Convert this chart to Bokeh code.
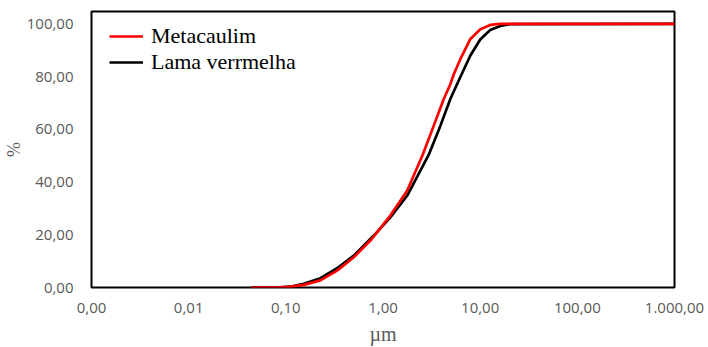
from bokeh.plotting import figure
from bokeh.models import Range1d, FixedTicker, CustomJSTickFormatter, Legend, LegendItem
from bokeh.embed import file_html
from bokeh.resources import INLINE

# ---- data ----
meta_x = [0.044, 0.08, 0.111, 0.153, 0.227, 0.337, 0.500, 0.742, 1.19, 1.77, 2.55, 3.33, 4.22, 4.93, 5.35, 6.25, 7.93, 10.05, 12.7, 16.1, 1000]
meta_y = [0.0, 0.0, 0.3, 1.0, 2.7, 6.4, 11.5, 17.8, 27.3, 36.7, 50.2, 61.4, 71.5, 77.1, 80.9, 86.6, 94.3, 98.0, 99.6, 100.0, 100.0]

lama_x = [0.044, 0.08, 0.111, 0.153, 0.227, 0.337, 0.500, 0.804, 1.19, 1.77, 2.95, 3.90, 4.93, 6.1, 7.93, 10.05, 12.7, 16.1, 20.3, 1000]
lama_y = [0.0, 0.0, 0.3, 1.4, 3.5, 7.3, 12.1, 19.7, 26.6, 34.8, 50.3, 61.4, 71.5, 79.0, 88.0, 94.2, 97.7, 99.2, 99.9, 100.0]

x_ticks = [0.001, 0.01, 0.1, 1, 10, 100, 1000]
x_tick_labels = ["0,00", "0,01", "0,10", "1,00", "10,00", "100,00", "1.000,00"]
y_ticks = [0, 20, 40, 60, 80, 100]
y_tick_labels = ["0,00", "20,00", "40,00", "60,00", "80,00", "100,00"]

series_names = ["Metacaulim", "Lama verrmelha"]
series_colors = ["#ff0000", "#000000"]

p = figure(width=708, height=347, x_axis_type="log", output_backend="svg",
           toolbar_location=None,
           x_range=Range1d(0.001, 1000), y_range=Range1d(0, 104.7),
           min_border_left=91, min_border_right=34, min_border_top=11, min_border_bottom=60)

p.background_fill_color = "white"
p.border_fill_color = "white"
p.outline_line_color = "black"
p.outline_line_width = 2
p.xgrid.visible = False
p.ygrid.visible = False

lb = p.line(lama_x, lama_y, line_color=series_colors[1], line_width=2.7)
lr = p.line(meta_x, meta_y, line_color=series_colors[0], line_width=2.7)

xa = p.xaxis[0]
xa.ticker = FixedTicker(ticks=x_ticks, minor_ticks=[])
xa.formatter = CustomJSTickFormatter(args=dict(labels=x_tick_labels),
                                     code="const i = Math.round(Math.log10(tick)) + 3; return labels[i];")
ya = p.yaxis[0]
ya.ticker = FixedTicker(ticks=y_ticks, minor_ticks=[])
ya.major_label_overrides = {t: l for t, l in zip(y_ticks, y_tick_labels)}

for ax in (xa, ya):
    ax.axis_line_color = None
    ax.major_tick_line_color = None
    ax.minor_tick_line_color = None
    ax.major_tick_out = 0
    ax.major_tick_in = 0
    ax.major_label_text_font = "Open Sans"
    ax.major_label_text_font_size = "15px"
    ax.major_label_text_color = "#595959"
    ax.axis_label_text_font = "Liberation Serif"
    ax.axis_label_text_font_style = "normal"
    ax.axis_label_text_color = "#595959"

xa.axis_label = "µm"
xa.axis_label_text_font_size = "20px"
xa.major_label_standoff = 15
xa.axis_label_standoff = 7
ya.axis_label = "%"
ya.axis_label_text_font_size = "18px"
ya.major_label_standoff = 18
ya.axis_label_standoff = 0

legend = Legend(items=[LegendItem(label=series_names[0], renderers=[lr]),
                       LegendItem(label=series_names[1], renderers=[lb])],
                location=(18, 212), margin=0, padding=0,
                glyph_width=34, glyph_height=26, label_height=26, spacing=0,
                label_standoff=8, border_line_color=None, background_fill_alpha=0,
                label_text_font="Liberation Serif", label_text_font_size="22px",
                label_text_color="black")
p.add_layout(legend)

open("out.html", "w").write(file_html(p, INLINE))
